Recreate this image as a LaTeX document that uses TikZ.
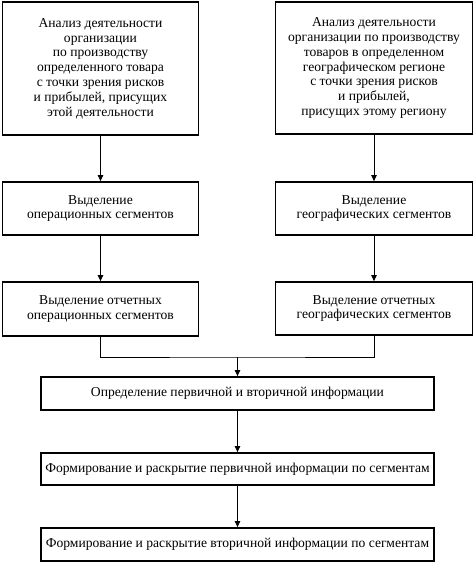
\documentclass[tikz,border=0pt]{standalone}
\usepackage{fontspec}
\setmainfont{Liberation Serif}
\usetikzlibrary{arrows.meta,calc}
\newcommand{\fs}{\fontsize{13.6}{14.8}\selectfont}
\begin{document}
\begin{tikzpicture}[x=1pt,y=-1pt,
  box/.style={draw, line width=1.8pt, align=center, inner sep=0pt, font=\fs, minimum width=#1},
  conn/.style={line width=0.9pt, -{Triangle[width=5.5pt,length=6pt]}},
  link/.style={line width=0.9pt}]
\useasboundingbox (0,0) rectangle (474,563);
\node[box=196pt, minimum height=133pt] (b1) at (100.5,68.5) {Анализ деятельности\\организации\\по производству\\определенного товара\\с точки зрения рисков\\и прибылей, присущих\\этой деятельности};
\node[box=197pt, minimum height=132pt] (b2) at (374,68) {Анализ деятельности\\организации по производству\\товаров в определенном\\географическом регионе\\с точки зрения рисков\\и прибылей,\\присущих этому региону};
\node[box=196pt, minimum height=53pt] (b3) at (100.5,208.5) {Выделение\\операционных сегментов};
\node[box=197pt, minimum height=53pt] (b4) at (374,208.5) {Выделение\\географических сегментов};
\node[box=196pt, minimum height=54pt] (b5) at (100.5,309) {Выделение отчетных\\операционных сегментов};
\node[box=197pt, minimum height=53pt] (b6) at (374,308.5) {Выделение отчетных\\географических сегментов};
\node[box=393pt, minimum height=33pt] (b7) at (237.5,393.5) {Определение первичной и вторичной информации};
\node[box=393pt, minimum height=32pt] (b8) at (237.5,469) {Формирование и раскрытие первичной информации по сегментам};
\node[box=393pt, minimum height=33pt] (b9) at (237.5,544.5) {Формирование и раскрытие вторичной информации по сегментам};
\coordinate (m) at (237.5,357);
\draw[conn] (b1) -- (b3);
\draw[conn] (b2) -- (b4);
\draw[conn] (b3) -- (b5);
\draw[conn] (b4) -- (b6);
\draw[link] (b5.south) |- (m) -| (b6.south);
\draw[conn] (m) -- (b7);
\draw[conn] (b7) -- (b8);
\draw[conn] (b8) -- (b9);
\end{tikzpicture}
\end{document}
